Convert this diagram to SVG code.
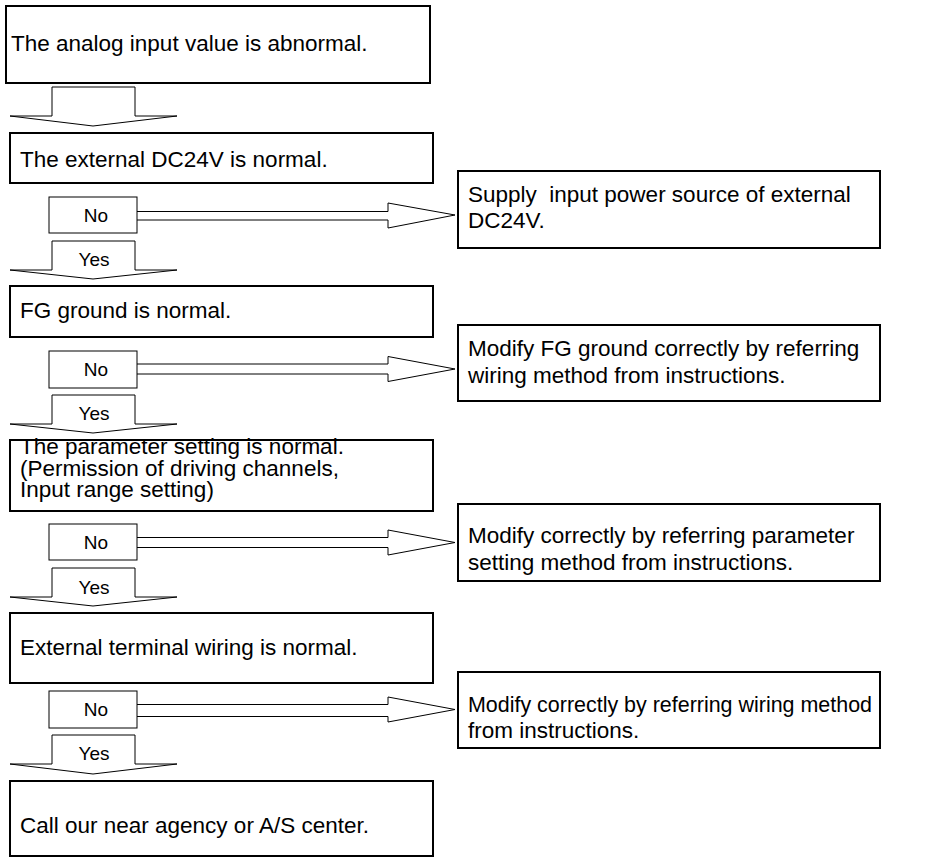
<svg xmlns="http://www.w3.org/2000/svg" width="936" height="857" viewBox="0 0 936 857">
<style>
.box{fill:#fff;stroke:#000;stroke-width:2}
.thin{fill:#fff;stroke:#000;stroke-width:1}
.t{font-family:"Liberation Sans",Arial,sans-serif;font-size:22.5px;fill:#000}
.s{font-family:"Liberation Sans",Arial,sans-serif;font-size:19px;fill:#000;text-anchor:middle}
</style>
<rect width="936" height="857" fill="#fff"/>
<g id="connectors">
<polygon class="thin" points="52,87 135,87 135,116 177,116 93,126 10,116 52,116"/>
<polygon class="thin" points="52,241 135,241 135,270 177,270 93,279 10,270 52,270"/>
<polygon class="thin" points="52,395 135,395 135,424 177,424 93,433 10,424 52,424"/>
<polygon class="thin" points="52,568 135,568 135,597 177,597 93,606 10,597 52,597"/>
<polygon class="thin" points="52,735 135,735 135,764 177,764 93,774 10,764 52,764"/>
<polyline class="thin" points="137,211.5 388,211.5 388,203 455,215 388,228 388,220 137,220"/>
<polyline class="thin" points="137,364 388,364 388,356.5 455,369 388,381.5 388,374 137,374"/>
<polyline class="thin" points="137,537.5 388,537.5 388,530 455,542.5 388,555 388,547.5 137,547.5"/>
<polyline class="thin" points="137,704.5 388,704.5 388,697 455,709.5 388,722 388,716.5 137,716.5"/>
<text class="s" x="94" y="266">Yes</text>
<text class="s" x="94" y="420">Yes</text>
<text class="s" x="94" y="594">Yes</text>
<text class="s" x="94" y="760">Yes</text>
</g>
<g id="n1"><rect class="box" x="6" y="6" width="424" height="77"/><text class="t" x="11" y="51">The analog input value is abnormal.</text></g>
<g id="n2"><rect class="box" x="10" y="133" width="423" height="50"/><text class="t" x="20" y="167">The external DC24V is normal.</text></g>
<g id="no1"><rect class="thin" x="49" y="197" width="88" height="36"/><text class="s" x="96" y="222">No</text></g>
<g id="r1"><rect class="box" x="458" y="171" width="422" height="77"/><text class="t" x="468" y="201.5" xml:space="preserve">Supply  input power source of external</text><text class="t" x="468" y="228">DC24V.</text></g>
<g id="n3"><rect class="box" x="10" y="286" width="423" height="51"/><text class="t" x="20" y="318">FG ground is normal.</text></g>
<g id="no2"><rect class="thin" x="49" y="351" width="88" height="37"/><text class="s" x="96" y="376">No</text></g>
<g id="r2"><rect class="box" x="458" y="325" width="422" height="76"/><text class="t" x="468" y="356">Modify FG ground correctly by referring</text><text class="t" x="468" y="383">wiring method from instructions.</text></g>
<g id="n4"><rect class="box" x="10" y="440" width="423" height="71"/><text class="t" x="20" y="454">The parameter setting is normal.</text><text class="t" x="20" y="475.5">(Permission of driving channels,</text><text class="t" x="20" y="497">Input range setting)</text></g>
<g id="no3"><rect class="thin" x="49" y="524" width="88" height="36"/><text class="s" x="96" y="549">No</text></g>
<g id="r3"><rect class="box" x="458" y="504" width="422" height="77"/><text class="t" x="468" y="543">Modify correctly by referring parameter</text><text class="t" x="468" y="570">setting method from instructions.</text></g>
<g id="n5"><rect class="box" x="10" y="613" width="423" height="70"/><text class="t" x="20" y="655">External terminal wiring is normal.</text></g>
<g id="no4"><rect class="thin" x="49" y="691" width="88" height="37"/><text class="s" x="96" y="716">No</text></g>
<g id="r4"><rect class="box" x="458" y="672" width="422" height="76"/><text class="t" x="468" y="711.5" textLength="404" lengthAdjust="spacingAndGlyphs">Modify correctly by referring wiring method</text><text class="t" x="468" y="738">from instructions.</text></g>
<g id="n6"><rect class="box" x="10" y="781" width="423" height="75"/><text class="t" x="20" y="833">Call our near agency or A/S center.</text></g>
</svg>
